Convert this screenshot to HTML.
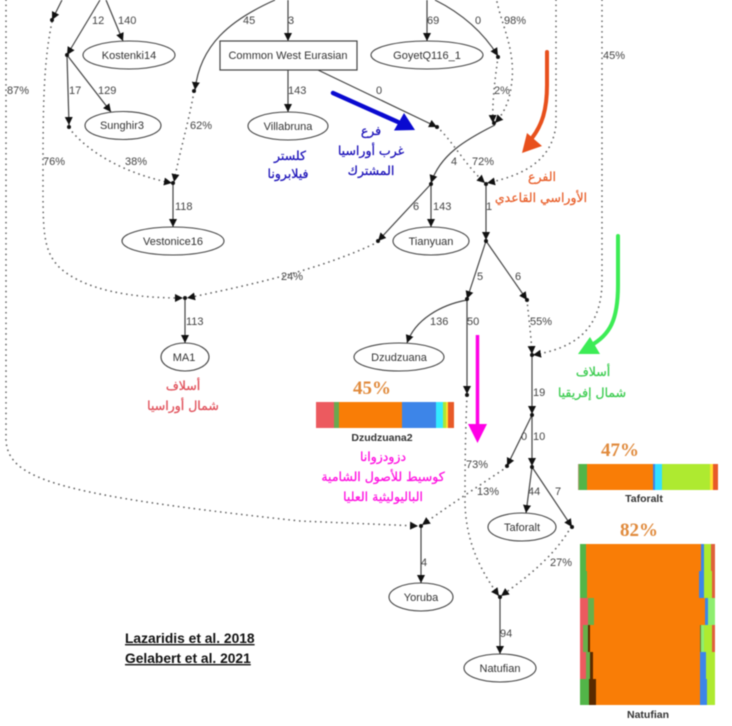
<!DOCTYPE html>
<html><head><meta charset="utf-8">
<style>
html,body{margin:0;padding:0;background:#fff}
svg{display:block}
.n{font:11px "Liberation Sans",sans-serif;fill:#444}
.l{font:11px "Liberation Sans",sans-serif;fill:#333;text-anchor:middle}
.ar{font-family:"DejaVu Sans",sans-serif;font-size:12.5px;text-anchor:middle;direction:rtl;stroke-width:.25px}
.s{fill:none;stroke:#444;stroke-width:1.2}
.d{fill:none;stroke:#666;stroke-width:1.7;stroke-dasharray:.1 5.2;stroke-linecap:round}
.e{fill:#fff;stroke:#444;stroke-width:1.1}
.p{font:bold 19px "Liberation Serif",serif;fill:#e08a3c;text-anchor:middle}
.b{font:bold 10.5px "Liberation Sans",sans-serif;fill:#333;text-anchor:middle}
</style></head><body>
<svg width="732" height="726" viewBox="0 0 732 726" xmlns="http://www.w3.org/2000/svg">
<defs>
<marker id="a" markerUnits="userSpaceOnUse" markerWidth="10" markerHeight="9" refX="8" refY="4.500" orient="auto"><path d="M0,0.500 L8,4.500 L0,8.500 Z" fill="#111"/></marker>
</defs>
<g style="filter:blur(.4px)">
<!-- dotted -->
<path class="d" d="M6,0 L6,440 C8,480 60,495 300,521 L418,526" marker-end="url(#a)"/>
<path class="d" d="M52,22 C44,60 43,100 43,170 C43,230 42,250 60,268 C85,290 130,298 183,298" marker-end="url(#a)"/>
<path class="d" d="M69,128 C90,155 130,175 172,183" marker-end="url(#a)"/>
<path class="d" d="M194,92 C188,125 180,150 174,182" marker-end="url(#a)"/>
<path class="d" d="M437,127 C452,140 465,165 485,183" marker-end="url(#a)"/>
<path class="d" d="M497,2 C502,25 515,50 512,80 C510,100 505,112 495,123" marker-end="url(#a)"/>
<path class="d" d="M498,57 C495,80 492,100 493,123" marker-end="url(#a)"/>
<path class="d" d="M556,0 L556,125 C552,160 525,175 487,183" marker-end="url(#a)"/>
<path class="d" d="M602,0 L602,285 C600,330 575,348 533,355" marker-end="url(#a)"/>
<path class="d" d="M378,242 C320,270 250,285 187,298" marker-end="url(#a)"/>
<path class="d" d="M527,300 C529,320 531,335 532,354" marker-end="url(#a)"/>
<path class="d" d="M467,396 C465,440 465,480 465,500 C465,540 480,570 499,596" marker-end="url(#a)"/>
<path class="d" d="M507,467 C480,485 450,505 422,525" marker-end="url(#a)"/>
<path class="d" d="M571,527 C555,555 530,575 501,596" marker-end="url(#a)"/>
<!-- solid -->
<path class="s" d="M62,0 L52,20" marker-end="url(#a)"/>
<path class="s" d="M100,0 L67,55" marker-end="url(#a)"/>
<path class="s" d="M106,0 L123,41" marker-end="url(#a)"/>
<path class="s" d="M67,55 L69,125" marker-end="url(#a)"/>
<path class="s" d="M67,55 L111,112" marker-end="url(#a)"/>
<path class="s" d="M275,0 C230,20 200,45 195,90" marker-end="url(#a)"/>
<path class="s" d="M173,184 L173,227" marker-end="url(#a)"/>
<path class="s" d="M288,0 L288,41" marker-end="url(#a)"/>
<path class="s" d="M288,70 L288,112" marker-end="url(#a)"/>
<path class="s" d="M318,70 L437,127" marker-end="url(#a)"/>
<path class="s" d="M427,0 L427,41" marker-end="url(#a)"/>
<path class="s" d="M435,0 C465,15 485,35 498,56" marker-end="url(#a)"/>
<path class="s" d="M495,125 C465,140 440,155 431,183" marker-end="url(#a)"/>
<path class="s" d="M431,184 L431,227" marker-end="url(#a)"/>
<path class="s" d="M431,184 L378,241" marker-end="url(#a)"/>
<path class="s" d="M486,184 L486,240" marker-end="url(#a)"/>
<path class="s" d="M486,241 L467,299" marker-end="url(#a)"/>
<path class="s" d="M486,241 L527,300" marker-end="url(#a)"/>
<path class="s" d="M467,300 C440,305 415,320 407,343" marker-end="url(#a)"/>
<path class="s" d="M467,300 L467,394" marker-end="url(#a)"/>
<path class="s" d="M532,355 L532,414" marker-end="url(#a)"/>
<path class="s" d="M532,415 L507,466" marker-end="url(#a)"/>
<path class="s" d="M532,415 L532,466" marker-end="url(#a)"/>
<path class="s" d="M532,467 L526,513" marker-end="url(#a)"/>
<path class="s" d="M532,467 L572,527" marker-end="url(#a)"/>
<path class="s" d="M185,299 L185,343" marker-end="url(#a)"/>
<path class="s" d="M421,526 L421,583" marker-end="url(#a)"/>
<path class="s" d="M500,597 L500,654" marker-end="url(#a)"/>
<!-- nodes -->
<g fill="#111"><circle cx="52" cy="20" r="2"/><circle cx="67" cy="55" r="2"/><circle cx="69" cy="127" r="2"/><circle cx="194" cy="91" r="2"/><circle cx="173" cy="183" r="2"/><circle cx="437" cy="127" r="2"/><circle cx="498" cy="57" r="2"/><circle cx="494" cy="123" r="2"/><circle cx="431" cy="184" r="2"/><circle cx="486" cy="184" r="2"/><circle cx="378" cy="241" r="2"/><circle cx="486" cy="241" r="2"/><circle cx="467" cy="299" r="2"/><circle cx="527" cy="300" r="2"/><circle cx="467" cy="395" r="2"/><circle cx="532" cy="355" r="2"/><circle cx="532" cy="415" r="2"/><circle cx="507" cy="466" r="2"/><circle cx="532" cy="467" r="2"/><circle cx="572" cy="527" r="2"/><circle cx="185" cy="298" r="2"/><circle cx="421" cy="526" r="2"/><circle cx="500" cy="597" r="2"/></g>
<!-- ellipses -->
<ellipse class="e" cx="129" cy="55" rx="46" ry="14"/>
<ellipse class="e" cx="123" cy="125.500" rx="38" ry="14"/>
<ellipse class="e" cx="173" cy="241" rx="51" ry="14"/>
<ellipse class="e" cx="288" cy="126" rx="40" ry="14"/>
<ellipse class="e" cx="427" cy="55" rx="56" ry="14"/>
<ellipse class="e" cx="431" cy="241" rx="38" ry="14"/>
<ellipse class="e" cx="185" cy="357" rx="24" ry="14"/>
<ellipse class="e" cx="399" cy="357" rx="45" ry="14"/>
<ellipse class="e" cx="522" cy="527" rx="34" ry="14"/>
<ellipse class="e" cx="421" cy="597" rx="32" ry="14"/>
<ellipse class="e" cx="500" cy="668" rx="36" ry="14"/>
<rect x="220" y="41" width="137" height="29" fill="#fff" stroke="#444" stroke-width="1.2"/>
<!-- node labels -->
<text class="l" x="129" y="59">Kostenki14</text>
<text class="l" x="122" y="129">Sunghir3</text>
<text class="l" x="173" y="245">Vestonice16</text>
<text class="l" x="288" y="59">Common West Eurasian</text>
<text class="l" x="288" y="130">Villabruna</text>
<text class="l" x="427" y="59">GoyetQ116_1</text>
<text class="l" x="431" y="245">Tianyuan</text>
<text class="l" x="184" y="361">MA1</text>
<text class="l" x="399" y="361">Dzudzuana</text>
<text class="l" x="522" y="531">Taforalt</text>
<text class="l" x="421" y="601">Yoruba</text>
<text class="l" x="500" y="672">Natufian</text>
<!-- edge labels -->
<g class="n">
<text x="92" y="24">12</text><text x="118" y="24">140</text>
<text x="69" y="94">17</text><text x="98" y="94">129</text>
<text x="7" y="94">87%</text><text x="43" y="165">76%</text>
<text x="125" y="165">38%</text><text x="190" y="129">62%</text>
<text x="175" y="210">118</text>
<text x="243" y="24">45</text><text x="288" y="24">3</text>
<text x="288" y="94">143</text><text x="376" y="94">0</text>
<text x="427" y="24">69</text><text x="475" y="24">0</text>
<text x="504" y="24">98%</text><text x="494" y="94">2%</text>
<text x="603" y="59">45%</text>
<text x="451" y="165">4</text><text x="472" y="165">72%</text>
<text x="413" y="210">6</text><text x="433" y="210">143</text>
<text x="486" y="210">1</text>
<text x="281" y="280">24%</text><text x="186" y="325">113</text>
<text x="477" y="280">5</text><text x="515" y="280">6</text>
<text x="430" y="325">136</text><text x="467" y="325">50</text><text x="530" y="325">55%</text>
<text x="533" y="396">19</text>
<text x="521" y="440">0</text><text x="533" y="440">10</text>
<text x="466" y="468">73%</text><text x="477" y="495">13%</text>
<text x="528" y="495">44</text><text x="555" y="495">7</text>
<text x="550" y="566">27%</text>
<text x="421" y="566">4</text><text x="500" y="637">94</text>
</g>
<!-- Dzudzuana2 bar -->
<g>
<rect x="316" y="402" width="18" height="26" fill="#ec5a5f"/>
<rect x="334" y="402" width="5" height="26" fill="#6aa84f"/>
<rect x="339" y="402" width="63" height="26" fill="#f97d06"/>
<rect x="402" y="402" width="34" height="26" fill="#3d85e8"/>
<rect x="436" y="402" width="7" height="26" fill="#33eaff"/>
<rect x="443" y="402" width="3" height="26" fill="#a8e838"/>
<rect x="446" y="402" width="2" height="26" fill="#ffe030"/>
<rect x="448" y="402" width="6" height="26" fill="#e85a28"/>
</g>
<text class="p" x="372" y="394">45%</text>
<text class="b" x="382" y="441">Dzudzuana2</text>
<!-- Taforalt bar -->
<g>
<rect x="578" y="464" width="1" height="26" fill="#a8a070"/>
<rect x="579" y="464" width="8" height="26" fill="#52b548"/>
<rect x="587" y="464" width="66" height="26" fill="#f97d06"/>
<rect x="653" y="464" width="2" height="26" fill="#3d85e8"/>
<rect x="655" y="464" width="7" height="26" fill="#33e0ff"/>
<rect x="662" y="464" width="48" height="26" fill="#aeea30"/>
<rect x="710" y="464" width="3" height="26" fill="#ffe030"/>
<rect x="713" y="464" width="5" height="26" fill="#e85a28"/>
</g>
<text class="p" x="620" y="456">47%</text>
<text class="b" x="644" y="502">Taforalt</text>
<!-- Natufian bar -->
<g>
<rect x="580" y="544" width="135" height="161" fill="#f97d06"/>
<rect x="580" y="544" width="6" height="27" fill="#52b548"/><rect x="701" y="544" width="3" height="27" fill="#3d85e8"/><rect x="704" y="544" width="7" height="27" fill="#aeea30"/><rect x="711" y="544" width="4" height="27" fill="#e0603a"/>
<rect x="580" y="571" width="7" height="27" fill="#52b548"/><rect x="699" y="571" width="5" height="27" fill="#3d85e8"/><rect x="704" y="571" width="8" height="27" fill="#aeea30"/><rect x="712" y="571" width="3" height="27" fill="#e0603a"/>
<rect x="580" y="598" width="8" height="27" fill="#ec5a5f"/><rect x="588" y="598" width="6" height="27" fill="#68b04a"/><rect x="705" y="598" width="3" height="27" fill="#3d85e8"/><rect x="708" y="598" width="7" height="27" fill="#8eee70"/>
<rect x="580" y="625" width="3" height="27" fill="#ec5a5f"/><rect x="583" y="625" width="5" height="27" fill="#68b04a"/><rect x="588" y="625" width="2" height="27" fill="#5a2a00"/><rect x="700" y="625" width="1" height="27" fill="#5a7a40"/><rect x="701" y="625" width="3" height="27" fill="#8eee70"/><rect x="704" y="625" width="8" height="27" fill="#aeea30"/><rect x="712" y="625" width="3" height="27" fill="#e0603a"/>
<rect x="580" y="652" width="6" height="27" fill="#ec5a5f"/><rect x="586" y="652" width="4" height="27" fill="#68b04a"/><rect x="590" y="652" width="3" height="27" fill="#5a2a00"/><rect x="700" y="652" width="6" height="27" fill="#3d85e8"/><rect x="706" y="652" width="9" height="27" fill="#aeea30"/>
<rect x="580" y="679" width="9" height="26" fill="#52b548"/><rect x="589" y="679" width="7" height="26" fill="#5a2a00"/><rect x="700" y="679" width="7" height="26" fill="#3d85e8"/><rect x="707" y="679" width="8" height="26" fill="#aeea30"/>
</g>
<text class="p" x="639" y="536">82%</text>
<text class="b" x="648" y="718">Natufian</text>
<!-- big arrows -->
<path d="M333,93 L398,122" fill="none" stroke="#0a0ad0" stroke-width="4.500" stroke-linecap="round"/>
<path d="M394,130.500 L415,130 L404,113 Z" fill="#0a0ad0"/>
<path d="M547,52 L547,85 C547,110 542,125 532,138" fill="none" stroke="#e8501c" stroke-width="4" stroke-linecap="round"/>
<path d="M522,153 L527,133 L542,146 Z" fill="#e8501c"/>
<path d="M618,236 L618,285 C618,320 610,335 590,346" fill="none" stroke="#3cec55" stroke-width="4" stroke-linecap="round"/>
<path d="M578,354 L600,354 L590,337 Z" fill="#3cec55"/>
<path d="M477.500,335 L477.500,425" fill="none" stroke="#ff00e6" stroke-width="3.500"/>
<path d="M468,424 L487,424 L477.500,443 Z" fill="#ff00e6"/>
<!-- Arabic -->
<g class="ar" fill="#1a10b8" stroke="#1a10b8">
<text x="371" y="135">فرع</text><text x="371" y="155">غرب أوراسيا</text><text x="371" y="175">المشترك</text>
<text x="290" y="160">كلستر</text><text x="288" y="178">فيلابرونا</text>
</g>
<g class="ar" fill="#e8602c" stroke="#e8602c">
<text x="542" y="181">الفرع</text><text x="541" y="202">الأوراسي القاعدي</text>
</g>
<g class="ar" fill="#e0505a" stroke="#e0505a">
<text x="183" y="390">أسلاف</text><text x="183" y="410">شمال أوراسيا</text>
</g>
<g class="ar" fill="#ff10e0" stroke="#ff10e0">
<text x="383" y="461">دزودزوانا</text><text x="383" y="481">كوسيط للأصول الشامية</text><text x="383" y="501">الباليوليثية العليا</text>
</g>
<g class="ar" fill="#3ccc50" stroke="#3ccc50">
<text x="593" y="376">أسلاف</text><text x="592" y="397">شمال إفريقيا</text>
</g>
<!-- citation -->
<g style="font:bold 13.800px 'Liberation Sans',sans-serif;fill:#111;text-decoration:underline">
<text x="125" y="643">Lazaridis et al. 2018</text>
<text x="125" y="663">Gelabert et al. 2021</text>
</g>
</g>
</svg>
</body></html>
